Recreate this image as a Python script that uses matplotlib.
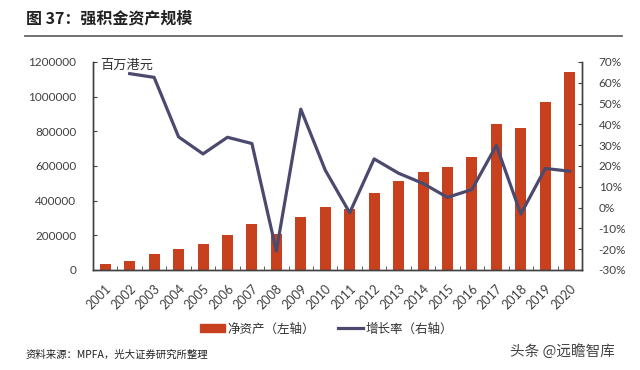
import matplotlib.pyplot as plt
import matplotlib.patches as mpatches
import matplotlib.lines as mlines
import matplotlib.ticker as mticker
import matplotlib.transforms as mtrans
import numpy as np

plt.rcParams['font.family'] = ['Lato', 'Noto Sans CJK SC', 'DejaVu Sans']

# données
years = [str(y) for y in range(2001, 2021)]
net_assets = [33000, 54000, 90000, 119000, 152000, 202000, 265000, 210000, 308000, 365000,
              354000, 442000, 513000, 563000, 594000, 650000, 844000, 817000, 971000, 1142000]
growth = [np.nan, 64.4, 62.6, 34.0, 25.8, 33.8, 30.8, -20.9, 47.3, 18.0,
          -2.5, 23.4, 16.5, 11.6, 4.9, 8.7, 29.9, -3.1, 18.8, 17.5]

bar_color = "#C8411F"
line_color = "#4B4A6E"
txt_color = "#404040"
cjk = ['Noto Sans CJK SC', 'DejaVu Sans']

fig = plt.figure(figsize=(6.4, 3.7), dpi=100)
ax = fig.add_axes([0.1453, 0.2703, 0.764, 0.5622])
ax2 = ax.twinx()

x = np.arange(len(years))
ax.bar(x, net_assets, width=0.45, color=bar_color, zorder=2)
ax2.plot(x, growth, color=line_color, lw=2.3, zorder=3)

ax.set_xlim(-0.5, len(years) - 0.5)
ax.set_ylim(0, 1200000)
ax.set_yticks(np.arange(0, 1200001, 200000))
ax.yaxis.set_major_formatter(mticker.FuncFormatter(lambda v, p: "%d" % v))
ax2.set_ylim(-30, 70)
ax2.set_yticks(np.arange(-30, 71, 10))
ax2.yaxis.set_major_formatter(mticker.FuncFormatter(lambda v, p: "%d%%" % v))

ax.set_xticks(x)
ax.set_xticklabels(years, rotation=45, ha='right', va='center', rotation_mode='anchor')
ax.set_xticks(np.arange(-0.5, len(years), 1), minor=True)
ax.tick_params(axis='x', which='major', length=0, pad=6, labelsize=9, labelcolor=txt_color)
ax.tick_params(axis='x', which='minor', length=3, direction='in', color=txt_color)
ax.tick_params(axis='y', length=3, direction='in', labelsize=8.5, labelcolor=txt_color,
               color=txt_color, pad=12)
ax2.tick_params(axis='y', length=3, direction='in', labelsize=8.5, labelcolor=txt_color,
                color=txt_color, pad=12)

# décalage des étiquettes d'années comme dans l'original
offset = mtrans.ScaledTranslation(3 / 72, -6 / 72, fig.dpi_scale_trans)
for lbl in ax.get_xticklabels():
    lbl.set_transform(lbl.get_transform() + offset)

for a in (ax, ax2):
    a.spines['top'].set_visible(False)
    for s in ('left', 'right', 'bottom'):
        a.spines[s].set_color(txt_color)
        a.spines[s].set_linewidth(1.0)

ax.text(0.015, 0.985, "百万港元", transform=ax.transAxes, family=cjk, fontsize=9.5,
        color="#333333", va='center', ha='left')

# titre et filet
fig.text(0.04, 0.951, "图 37：强积金资产规模", family=cjk, fontsize=11.5, fontweight='bold',
         va='center', ha='left', color="#222222")
fig.add_artist(mlines.Line2D([0.039, 0.972], [0.903, 0.903], color="#666666", lw=1.3))

# légende
h1 = mpatches.Patch(color=bar_color, label="净资产（左轴）")
h2 = mlines.Line2D([], [], color=line_color, lw=2.3, label="增长率（右轴）")
fig.legend(handles=[h1, h2], loc='center', bbox_to_anchor=(0.51, 0.111), ncol=2,
           frameon=False, prop={'family': cjk, 'size': 9}, handlelength=2.0,
           handleheight=0.6, handletextpad=0.25, columnspacing=1.8, labelcolor="#333333")

fig.text(0.04, 0.04, "资料来源：MPFA，光大证券研究所整理", family=cjk, fontsize=7.5,
         va='center', ha='left', color="#222222")
fig.text(0.797, 0.049, "头条 @远瞻智库", family=cjk, fontsize=10.5,
         va='center', ha='left', color="#444444")

plt.savefig("out.png", dpi=100)
